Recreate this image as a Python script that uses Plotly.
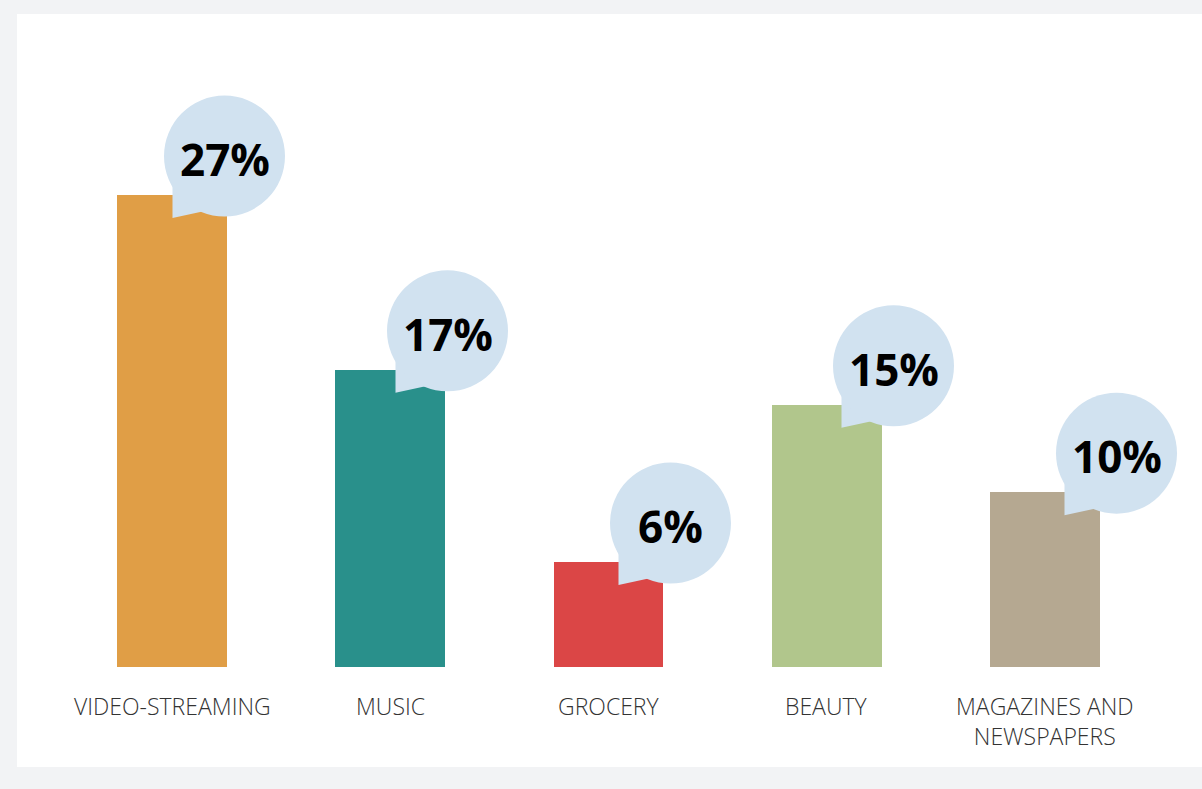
import plotly.graph_objects as go

categories = ["VIDEO-STREAMING", "MUSIC", "GROCERY", "BEAUTY", "MAGAZINES AND<br>NEWSPAPERS"]
shares = [27, 17, 6, 15, 10]
bar_colors = ["#e09e46", "#29908b", "#db4646", "#b1c68c", "#b5a891"]

BUBBLE = "#d1e2f0"
idx = list(range(len(categories)))

fig = go.Figure()
fig.add_trace(go.Bar(
    x=idx, y=shares, marker=dict(color=bar_colors, line=dict(width=0)),
    width=0.504, hoverinfo="skip", showlegend=False,
))
# invisible trace so the bubble axis exists
fig.add_trace(go.Scatter(x=idx, y=shares, xaxis="x2", mode="markers",
                         marker=dict(opacity=0), hoverinfo="skip", showlegend=False))

shapes = []
annotations = []
for i, v in enumerate(shares):
    # speech-bubble tail
    shapes.append(dict(
        type="path", xref="x2", yref="y", xsizemode="pixel", ysizemode="pixel",
        xanchor=i, yanchor=v,
        path="M-52,9 L-52,-23 L-22,-16.5 L0,39 Z",
        fillcolor=BUBBLE, line=dict(width=0), layer="above",
    ))
    # speech-bubble body
    shapes.append(dict(
        type="circle", xref="x2", yref="y", xsizemode="pixel", ysizemode="pixel",
        xanchor=i, yanchor=v, x0=-60.5, x1=60.5, y0=-21.5, y1=99.5,
        fillcolor=BUBBLE, line=dict(width=0), layer="above",
    ))
    annotations.append(dict(
        x=i, y=v, xref="x2", yref="y", text=f"{v}%", showarrow=False,
        xanchor="center", yanchor="middle", yshift=36,
        font=dict(family="Open Sans", size=44, color="#000000", weight="bold"),
    ))
    annotations.append(dict(
        x=i, y=0, xref="x", yref="y", text=categories[i], showarrow=False,
        xanchor="center", yanchor="top", yshift=-21, align="center",
        font=dict(family="Open Sans", size=23, color="#333333", weight=300),
    ))

fig.update_layout(
    width=1202, height=789,
    margin=dict(l=17, r=0, t=14, b=22),
    paper_bgcolor="#f2f3f5", plot_bgcolor="#ffffff",
    xaxis=dict(range=[-0.7102, 4.7194], visible=False, fixedrange=True),
    xaxis2=dict(range=[-0.9305, 4.3834], overlaying="x", visible=False, fixedrange=True),
    yaxis=dict(range=[-5.721, 37.357], visible=False, fixedrange=True),
    shapes=shapes, annotations=annotations,
    bargap=0,
)

fig.write_html("out.html", config={"displayModeBar": False})
